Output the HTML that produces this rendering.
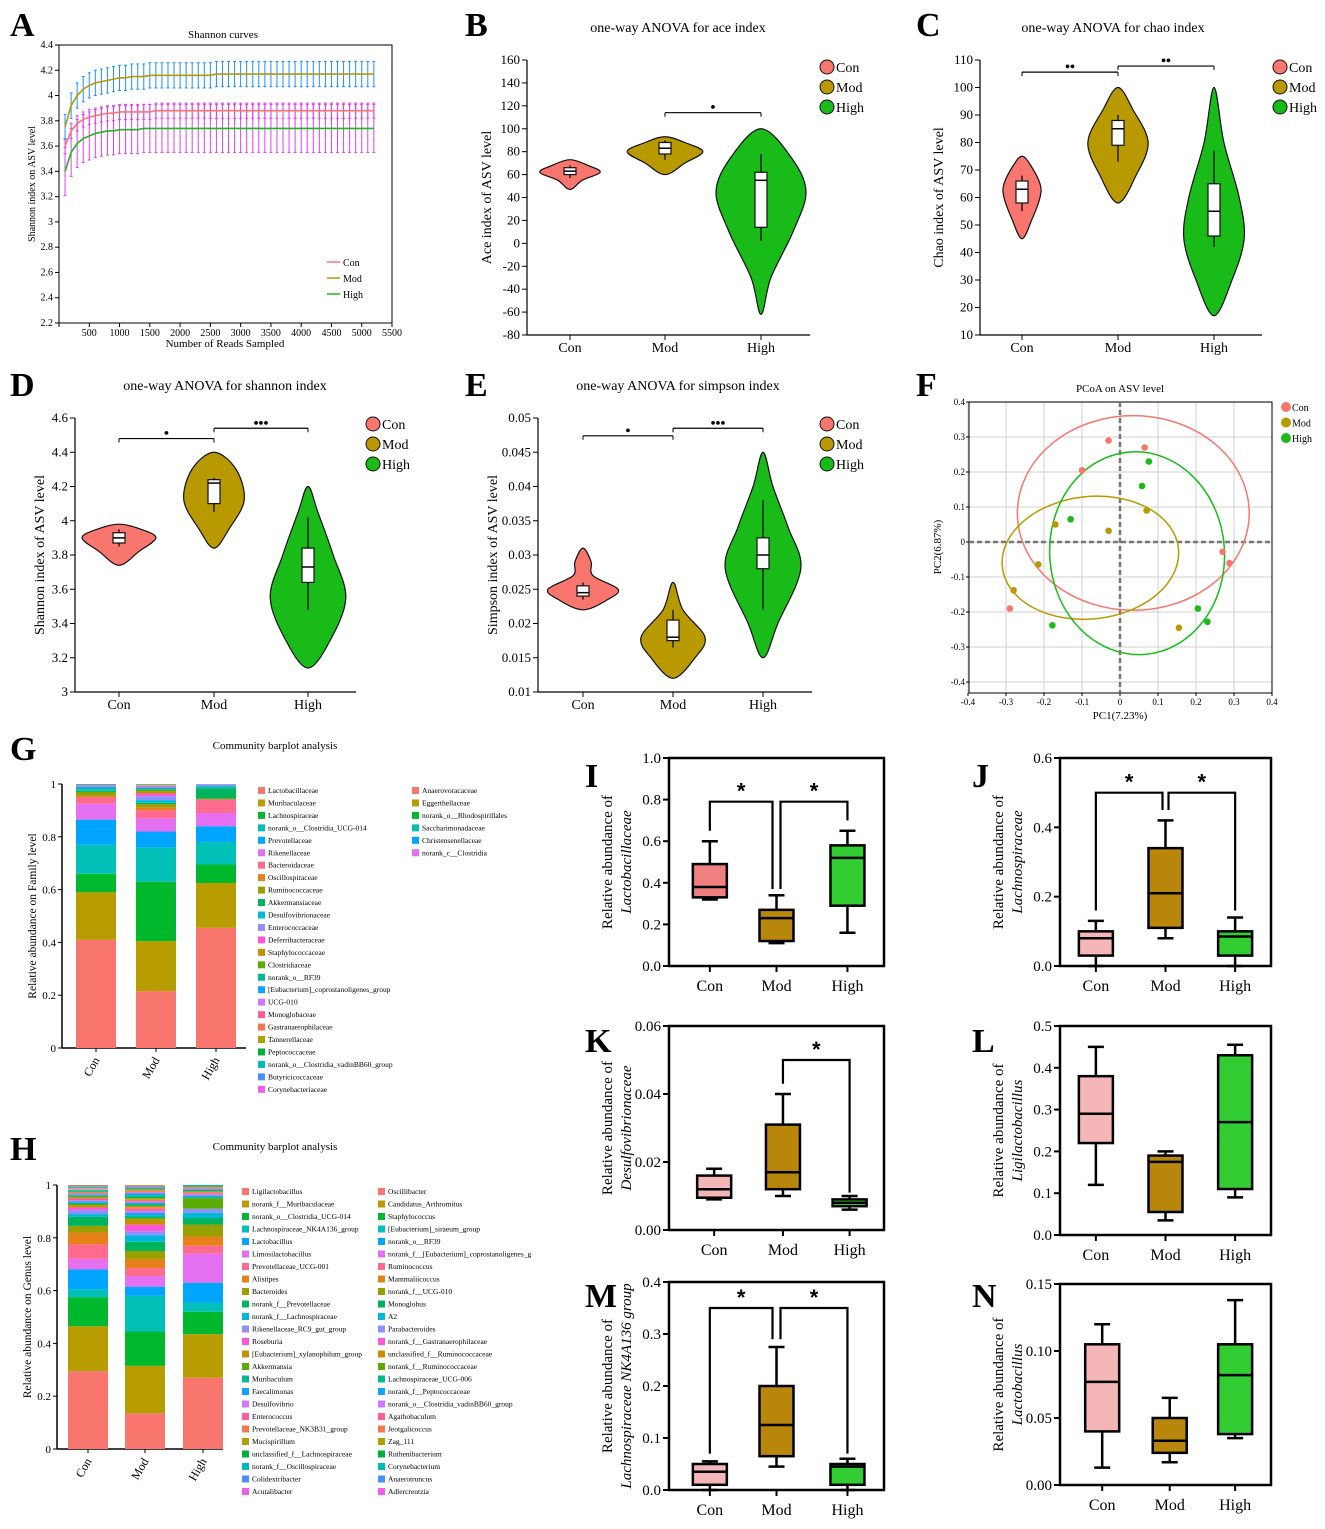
<!DOCTYPE html>
<html><head><meta charset="utf-8"><style>
html,body{margin:0;padding:0;background:#fff}
svg{display:block;font-family:"Liberation Serif",serif}
</style></head><body>
<svg id="fig" width="1325" height="1529" viewBox="0 0 1325 1529" xmlns="http://www.w3.org/2000/svg">
<rect x="0" y="0" width="1325" height="1529" fill="#fff"/>
</svg>
<script>
// ---------- DATA ----------
const groups = ['Con','Mod','High'];
const rareReads = [100,200,300,400,500,600,700,800,900,1000,1100,1200,1300,1400,1500,1600,1700,1800,1900,2000,2100,2200,2300,2400,2500,2600,2700,2800,2900,3000,3100,3200,3300,3400,3500,3600,3700,3800,3900,4000,4100,4200,4300,4400,4500,4600,4700,4800,4900,5000,5100,5200];
const rareCon = [3.60,3.72,3.78,3.81,3.83,3.84,3.85,3.86,3.86,3.87,3.87,3.87,3.87,3.87,3.87,3.88,3.88,3.88,3.88,3.88,3.88,3.88,3.88,3.88,3.88,3.88,3.88,3.88,3.88,3.88,3.88,3.88,3.88,3.88,3.88,3.88,3.88,3.88,3.88,3.88,3.88,3.88,3.88,3.88,3.88,3.88,3.88,3.88,3.88,3.88,3.88,3.88];
const rareMod = [3.75,3.92,4.00,4.05,4.08,4.10,4.11,4.12,4.13,4.14,4.14,4.15,4.15,4.15,4.16,4.16,4.16,4.16,4.16,4.16,4.16,4.16,4.16,4.16,4.16,4.17,4.17,4.17,4.17,4.17,4.17,4.17,4.17,4.17,4.17,4.17,4.17,4.17,4.17,4.17,4.17,4.17,4.17,4.17,4.17,4.17,4.17,4.17,4.17,4.17,4.17,4.17];
const rareHigh = [3.40,3.55,3.62,3.66,3.68,3.70,3.71,3.72,3.72,3.73,3.73,3.73,3.73,3.74,3.74,3.74,3.74,3.74,3.74,3.74,3.74,3.74,3.74,3.74,3.74,3.74,3.74,3.74,3.74,3.74,3.74,3.74,3.74,3.74,3.74,3.74,3.74,3.74,3.74,3.74,3.74,3.74,3.74,3.74,3.74,3.74,3.74,3.74,3.74,3.74,3.74,3.74];
const rareSD = [0.06,0.10,0.19];

const aceVals = [[47,55,62,68,73],[60,70,80,88,93],[-62,-30,10,45,75,100]];
const aceDens = [[0,.27,.67,.4,0],[0,.44,.84,.44,0],[0,.22,.71,1,.67,0]];
const aceBox = [[57,60,63,66,68],[73,78,83,88,90],[2,14,55,62,78]];
const chaoVals = [[45,52,60,65,72,75],[58,68,80,92,100],[17,30,45,60,80,100]];
const chaoDens = [[0,.22,.4,.4,.18,0],[0,.4,.67,.33,0],[0,.4,.67,.56,.22,0]];
const chaoBox = [[55,58,63,66,68],[73,79,85,88,90],[42,46,55,65,77]];
const shanVals = [[3.74,3.82,3.9,3.95,3.98],[3.84,3.95,4.12,4.3,4.4],[3.14,3.3,3.55,3.8,4.05,4.2]];
const shanDens = [[0,.44,.82,.49,0],[0,.33,.67,.49,0],[0,.49,.84,.56,.22,0]];
const shanBox = [[3.85,3.87,3.9,3.93,3.95],[4.05,4.1,4.22,4.24,4.25],[3.48,3.64,3.73,3.84,4.02]];
const simpVals = [[0.022,0.0235,0.025,0.027,0.029,0.031],[0.012,0.015,0.018,0.022,0.026],[0.015,0.02,0.028,0.034,0.04,0.045]];
const simpDens = [[0,.55,.78,.22,.18,0],[0,.49,.71,.22,0],[0,.33,.84,.56,.22,0]];
const simpBox = [[0.0235,0.024,0.0245,0.0255,0.026],[0.0165,0.0175,0.018,0.0205,0.022],[0.022,0.028,0.030,0.0325,0.038]];

const pcoaCon = [[-0.03,0.29],[0.065,0.27],[-0.1,0.205],[0.27,-0.028],[0.288,-0.06],[-0.29,-0.19]];
const pcoaMod = [[-0.17,0.05],[-0.03,0.032],[0.07,0.09],[-0.215,-0.064],[-0.28,-0.138],[0.155,-0.245]];
const pcoaHigh = [[0.076,0.23],[0.058,0.16],[-0.13,0.065],[0.205,-0.19],[0.23,-0.228],[-0.178,-0.238]];
const ellCon = [0.035,0.083,0.305,0.278,0];
const ellMod = [-0.078,-0.045,0.233,0.175,-6];
const ellHigh = [0.045,-0.032,0.23,0.29,-4];

const famNames = ['Lactobacillaceae','Muribaculaceae','Lachnospiraceae','norank_o__Clostridia_UCG-014','Prevotellaceae','Rikenellaceae','Bacteroidaceae','Oscillospiraceae','Ruminococcaceae','Akkermansiaceae','Desulfovibrionaceae','Enterococcaceae','Deferribacteraceae','Staphylococcaceae','Clostridiaceae','norank_o__RF39','[Eubacterium]_coprostanoligenes_group','UCG-010','Monoglobaceae','Gastranaerophilaceae','Tannerellaceae','Peptococcaceae','norank_o__Clostridia_vadinBB60_group','Butyricicoccaceae','Corynebacteriaceae','Anaerovoracaceae','Eggerthellaceae','norank_o__Rhodospirillales','Saccharimonadaceae','Christensenellaceae','norank_c__Clostridia'];
const famCon = [.41,.18,.07,.11,.095,.06,.025,.005,.015,.005,.005,0,0,0,0,.005,.005,.0025,.0025,0,0,0,0,0,0,0,.002,0,0,.003,0];
const famMod = [.215,.19,.225,.13,.06,.05,.03,.012,.012,.005,.01,.015,.01,.008,.006,.005,.004,.003,.003,.002,.002,.001,.001,.001,0,0,0,0,0,0,0];
const famHigh = [.455,.17,.07,.085,.06,.05,.05,.004,0,.04,.005,0,0,0,0,.003,.003,.002,.002,0,0,0,0,0,0,0,0,0,0,.001,0];

const genNames = ['Ligilactobacillus','norank_f__Muribaculaceae','norank_o__Clostridia_UCG-014','Lachnospiraceae_NK4A136_group','Lactobacillus','Limosilactobacillus','Prevotellaceae_UCG-001','Alistipes','Bacteroides','norank_f__Prevotellaceae','norank_f__Lachnospiraceae','Rikenellaceae_RC9_gut_group','Roseburia','[Eubacterium]_xylanophilum_group','Akkermansia','Muribaculum','Faecalimonas','Desulfovibrio','Enterococcus','Prevotellaceae_NK3B31_group','Mucispirillum','unclassified_f__Lachnospiraceae','norank_f__Oscillospiraceae','Colidextribacter','Acutalibacter',
'Oscillibacter','Candidatus_Arthromitus','Staphylococcus','[Eubacterium]_siraeum_group','norank_o__RF39','norank_f__[Eubacterium]_coprostanoligenes_g','Ruminococcus','Mammaliicoccus','norank_f__UCG-010','Monoglobus','A2','Parabacteroides','norank_f__Gastranaerophilaceae','unclassified_f__Ruminococcaceae','norank_f__Ruminococcaceae','Lachnospiraceae_UCG-006','norank_f__Peptococcaceae','norank_o__Clostridia_vadinBB60_group','Agathobaculum','Jeotgalicoccus','Zag_111','Ruthenibacterium','Corynebacterium','Anaerotruncus','Adlercreutzia'];
const genCon = [.295,.17,.11,.03,.075,.04,.055,.045,.025,.035,.01,.015,.01,.008,.005,.005,.005,.005,.004,.004,.004,.004,.003,.003,.003,
.003,.003,.003,.003,.002,.002,.002,.002,.002,.002,.002,.002,.002,.002,0,0,0,0,0,0,0,0,0,0,0];
const genMod = [.135,.18,.13,.135,.035,.04,.03,.035,.03,.035,.025,.015,.025,.02,.005,.01,.01,.008,.007,.006,.005,.005,.004,.004,.004,
.006,.006,.006,.006,.006,.004,.004,.004,.004,.004,.003,.003,.003,.003,0,0,0,0,0,0,0,0,0,0,0];
const genHigh = [.27,.165,.085,.035,.075,.11,.03,.035,.045,.025,.02,.015,0,0,.04,.005,.005,.005,.004,.004,.003,.003,.003,.003,.003,
.003,.003,.002,.002,.002,0,0,0,0,0,0,0,0,0,0,0,0,0,0,0,0,0,0,0,0];

const boxI = [[0.32,0.33,0.38,0.49,0.60],[0.11,0.12,0.23,0.27,0.34],[0.16,0.29,0.52,0.58,0.65]];
const boxJ = [[0.0,0.03,0.08,0.10,0.13],[0.08,0.11,0.21,0.34,0.42],[0.0,0.03,0.085,0.10,0.14]];
const boxK = [[0.009,0.0095,0.012,0.016,0.018],[0.010,0.012,0.017,0.031,0.040],[0.006,0.007,0.008,0.009,0.010]];
const boxL = [[0.12,0.22,0.29,0.38,0.45],[0.035,0.055,0.175,0.19,0.20],[0.09,0.11,0.27,0.43,0.455]];
const boxM = [[0.0,0.01,0.035,0.05,0.055],[0.045,0.065,0.125,0.20,0.275],[0.0,0.01,0.045,0.05,0.06]];
const boxN = [[0.013,0.04,0.077,0.105,0.12],[0.017,0.024,0.033,0.05,0.065],[0.035,0.038,0.082,0.105,0.138]];

// ---------- HELPERS ----------
const NS='http://www.w3.org/2000/svg';
const svg=document.getElementById('fig');
function mk(tag,attrs,name,parent){
  const el=document.createElementNS(NS,tag);
  
  
  for(const k in attrs) el.setAttribute(k,attrs[k]);
  (parent||svg).appendChild(el);
  return el;
}
function txt(x,y,s,name,o){
  o=o||{};
  const a={x:x,y:y,'font-size':o.size||13,'text-anchor':o.anchor||'middle',fill:o.fill||'#000'};
  if(o.weight)a['font-weight']=o.weight;
  if(o.style)a['font-style']=o.style;
  if(o.rot!==undefined)a.transform=`rotate(${o.rot} ${x} ${y})`;
  if(o.family)a['font-family']=o.family;
  const t=mk('text',a,name,o.parent);
  t.textContent=s;
  return t;
}
function ln(x1,y1,x2,y2,name,o){
  o=o||{};
  const a={x1:x1,y1:y1,x2:x2,y2:y2,stroke:o.stroke||'#000','stroke-width':o.w||1};
  if(o.dash)a['stroke-dasharray']=o.dash;
  return mk('line',a,name,o.parent);
}
function fmt(v){return String(+v.toFixed(4));}
function smoothClosed(pts){
  const n=pts.length;let d=`M${pts[0][0]},${pts[0][1]}`;
  for(let i=0;i<n;i++){
    const p0=pts[(i-1+n)%n],p1=pts[i],p2=pts[(i+1)%n],p3=pts[(i+2)%n];
    const c1=[p1[0]+(p2[0]-p0[0])/6,p1[1]+(p2[1]-p0[1])/6];
    const c2=[p2[0]-(p3[0]-p1[0])/6,p2[1]-(p3[1]-p1[1])/6];
    d+=` C${c1[0]},${c1[1]} ${c2[0]},${c2[1]} ${p2[0]},${p2[1]}`;
  }
  return d+'Z';
}
function panelLetter(x,y,s){
  txt(x,y,s,'panel-label-'+s.toLowerCase(),{size:34,weight:'bold',anchor:'start'});
}
const vCols=['#f8766d','#b89a00','#19bb19'];

// ---------- PANEL A ----------
(function(){
  const g=mk('g',{},'panel-a-shannon-curves');
  const X0=59,X1=392,YB=323,YT=45;
  const sx=v=>X0+v/5500*(X1-X0), sy=v=>YB-(v-2.2)/2.2*(YB-YT);
  mk('rect',{x:X0,y:YT,width:X1-X0,height:YB-YT,fill:'none',stroke:'#000','stroke-width':1},'plot-frame',g);
  for(let v=2.2;v<=4.41;v+=0.2){const y=sy(v);ln(X0-4,y,X0,y,'y-tick',{parent:g});txt(X0-6,y+3,fmt(v),'y-tick-label',{size:10,anchor:'end',parent:g});}
  for(let r=0;r<=5500;r+=500){const x=sx(r);ln(x,YB,x,YB+4,'x-tick',{parent:g});if(r>0)txt(x,YB+13,String(r),'x-tick-label',{size:10,parent:g});}
  txt(223,38,'Shannon curves','chart-title',{size:11,parent:g});
  txt(225,347,'Number of Reads Sampled','x-axis-title',{size:11,parent:g});
  txt(35,184,'Shannon index on ASV level','y-axis-title',{size:10,rot:-90,parent:g});
  const series=[rareCon,rareMod,rareHigh], lc=['#f8766d','#b89a00','#19bb19'], ec=['#e040f0','#1e90ff','#e040f0'];
  [2,0,1].forEach(si=>{
    const m=series[si],sd=rareSD[si];
    rareReads.forEach((r,i)=>{
      const x=sx(r);
      ln(x,sy(m[i]-sd),x,sy(m[i]+sd),'error-bar-'+groups[si].toLowerCase(),{stroke:ec[si],parent:g});
      ln(x-1.5,sy(m[i]+sd),x+1.5,sy(m[i]+sd),'error-cap',{stroke:ec[si],parent:g});
      ln(x-1.5,sy(m[i]-sd),x+1.5,sy(m[i]-sd),'error-cap',{stroke:ec[si],parent:g});
    });
  });
  series.forEach((m,si)=>{
    const d=rareReads.map((r,i)=>(i?'L':'M')+sx(r)+','+sy(m[i])).join('');
    mk('path',{d:d,fill:'none',stroke:lc[si],'stroke-width':1.6},'curve-'+groups[si].toLowerCase(),g);
  });
  groups.forEach((gname,i)=>{
    const y=262+i*16;
    ln(327,y,340,y,'legend-line',{stroke:lc[i],w:1.5,parent:g});
    txt(343,y+4,gname,'legend-label',{size:10,anchor:'start',parent:g});
  });
  panelLetter(10,36,'A');
})();

// ---------- VIOLIN PANELS ----------
function violinPanel(c){
  const g=mk('g',{},c.name);
  const sy=v=>c.yb-(v-c.vmin)/(c.vmax-c.vmin)*(c.yb-c.yt);
  ln(c.x0,c.yt,c.x0,c.yb,'y-axis-line',{w:1.2,parent:g});
  ln(c.x0,c.yb,c.x1,c.yb,'x-axis-line',{w:1.2,parent:g});
  c.ticks.forEach(v=>{const y=sy(v);ln(c.x0-5,y,c.x0,y,'y-tick',{parent:g});txt(c.x0-7,y+4,fmt(v),'y-tick-label',{size:13,anchor:'end',parent:g});});
  c.cx.forEach((x,i)=>{ln(x,c.yb,x,c.yb+5,'x-tick',{parent:g});txt(x,c.yb+17,groups[i],'x-tick-label',{size:14,parent:g});});
  txt(c.tx,c.ty,c.title,'chart-title',{size:14,parent:g});
  txt(c.ytx,(c.yt+c.yb)/2,c.ytitle,'y-axis-title',{size:14,rot:-90,parent:g});
  for(let i=0;i<3;i++){
    const vals=c.vals[i],dens=c.dens[i],x=c.cx[i];
    const right=vals.map((v,k)=>[x+dens[k]*45,sy(v)]);
    const left=[];for(let k=vals.length-2;k>=1;k--)left.push([x-dens[k]*45,sy(vals[k])]);
    mk('path',{d:smoothClosed(right.concat(left)),fill:vCols[i],stroke:'#111','stroke-width':1.2},'violin-'+groups[i].toLowerCase(),g);
    const b=c.box[i];
    ln(x,sy(b[0]),x,sy(b[4]),'box-whisker',{w:1.2,parent:g});
    mk('rect',{x:x-6,y:sy(b[3]),width:12,height:sy(b[1])-sy(b[3]),fill:'#fff',stroke:'#111','stroke-width':1.2},'box-'+groups[i].toLowerCase(),g);
    ln(x-6,sy(b[2]),x+6,sy(b[2]),'box-median',{w:1.5,parent:g});
  }
  c.sig.forEach(s=>{
    const y=sy(s[2]),xa=c.cx[s[0]],xb=c.cx[s[1]];
    ln(xa,y,xb,y,'significance-bar',{w:1.2,parent:g});
    ln(xa,y,xa,y+4,'significance-tick',{parent:g});ln(xb,y,xb,y+4,'significance-tick',{parent:g});
    txt((xa+xb)/2,y-1,s[3],'significance-mark',{size:14,weight:'bold',parent:g});
  });
  groups.forEach((gname,i)=>{
    const y=c.ly+i*20;
    mk('circle',{cx:c.lx,cy:y,r:7,fill:vCols[i],stroke:'#111','stroke-width':1},'legend-marker-'+gname.toLowerCase(),g);
    txt(c.lx+9,y+5,gname,'legend-label',{size:14,anchor:'start',parent:g});
  });
  panelLetter(c.lpx,c.lpy,c.letter);
}
violinPanel({name:'panel-b-ace-violin',letter:'B',lpx:465,lpy:36,x0:527,x1:810,yt:60,yb:335,vmin:-80,vmax:160,ticks:[-80,-60,-40,-20,0,20,40,60,80,100,120,140,160],cx:[570,665,761],vals:aceVals,dens:aceDens,box:aceBox,title:'one-way ANOVA for ace index',tx:678,ty:32,ytitle:'Ace index of ASV level',ytx:491,lx:827,ly:67,sig:[[1,2,114,'•']]});
violinPanel({name:'panel-c-chao-violin',letter:'C',lpx:916,lpy:36,x0:980,x1:1262,yt:60,yb:335,vmin:10,vmax:110,ticks:[10,20,30,40,50,60,70,80,90,100,110],cx:[1022,1118,1214],vals:chaoVals,dens:chaoDens,box:chaoBox,title:'one-way ANOVA for chao index',tx:1113,ty:32,ytitle:'Chao index of ASV level',ytx:943,lx:1280,ly:67,sig:[[0,1,105.6,'••'],[1,2,107.8,'••']]});
violinPanel({name:'panel-d-shannon-violin',letter:'D',lpx:10,lpy:396,x0:75,x1:356,yt:418,yb:692,vmin:3,vmax:4.6,ticks:[3,3.2,3.4,3.6,3.8,4,4.2,4.4,4.6],cx:[119,214,308],vals:shanVals,dens:shanDens,box:shanBox,title:'one-way ANOVA for shannon index',tx:225,ty:390,ytitle:'Shannon index of ASV level',ytx:44,lx:373,ly:424,sig:[[0,1,4.48,'•'],[1,2,4.54,'•••']]});
violinPanel({name:'panel-e-simpson-violin',letter:'E',lpx:465,lpy:396,x0:538,x1:812,yt:418,yb:692,vmin:0.01,vmax:0.05,ticks:[0.01,0.015,0.02,0.025,0.03,0.035,0.04,0.045,0.05],cx:[583,673,763],vals:simpVals,dens:simpDens,box:simpBox,title:'one-way ANOVA for simpson index',tx:678,ty:390,ytitle:'Simpson index of ASV level',ytx:497,lx:827,ly:424,sig:[[0,1,0.0474,'•'],[1,2,0.0485,'•••']]});

// ---------- PANEL F PCoA ----------
(function(){
  const g=mk('g',{},'panel-f-pcoa');
  const X0=969,X1=1272,YT=402,YB=693;
  const sx=v=>1120+v*380, sy=v=>542-v*350;
  for(let v=-0.4;v<=0.401;v+=0.1){
    const x=sx(v),y=sy(v);
    ln(x,YT,x,YB,'grid-line-x',{stroke:'#d9d9d9',w:1.2,parent:g});
    ln(X0,y,X1,y,'grid-line-y',{stroke:'#d9d9d9',w:1.2,parent:g});
    ln(x,YB,x,YB+3,'x-tick',{parent:g});ln(X0-3,y,X0,y,'y-tick',{parent:g});
    txt(x,YB+12,fmt(v),'x-tick-label',{size:9,parent:g});
    txt(X0-4,y+3,fmt(v),'y-tick-label',{size:9,anchor:'end',parent:g});
  }
  mk('rect',{x:X0,y:YT,width:X1-X0,height:YB-YT,fill:'none',stroke:'#000','stroke-width':1},'plot-frame',g);
  ln(sx(0),YT,sx(0),YB,'zero-line-x',{stroke:'#777',w:2.5,dash:'5,3',parent:g});
  ln(X0,sy(0),X1,sy(0),'zero-line-y',{stroke:'#777',w:2.5,dash:'5,3',parent:g});
  const pc=['#f8766d','#b89a00','#19bb19'];
  [ellCon,ellMod,ellHigh].forEach((e,i)=>{
    mk('ellipse',{cx:sx(e[0]),cy:sy(e[1]),rx:e[2]*380,ry:e[3]*350,fill:'none',stroke:pc[i],'stroke-width':1.5,transform:`rotate(${e[4]} ${sx(e[0])} ${sy(e[1])})`},'ellipse-'+groups[i].toLowerCase(),g);
  });
  [pcoaCon,pcoaMod,pcoaHigh].forEach((pts,i)=>pts.forEach(p=>{
    mk('circle',{cx:sx(p[0]),cy:sy(p[1]),r:3.3,fill:pc[i]},'point-'+groups[i].toLowerCase(),g);
  }));
  txt(1120,392,'PCoA on ASV level','chart-title',{size:11,parent:g});
  txt(1120,719,'PC1(7.23%)','x-axis-title',{size:11,parent:g});
  txt(941,547,'PC2(6.87%)','y-axis-title',{size:11,rot:-90,parent:g});
  groups.forEach((gname,i)=>{
    const y=407+i*15.5;
    mk('circle',{cx:1286,cy:y,r:5,fill:pc[i]},'legend-marker-'+gname.toLowerCase(),g);
    txt(1292,y+4,gname,'legend-label',{size:10,anchor:'start',parent:g});
  });
  panelLetter(916,396,'F');
})();

// ---------- STACKED BARS G / H ----------
const pal=['#f8766d','#b89d00','#00b82c','#00c0b8','#00a5ff','#e46ff0','#ff6b8f','#e8801a','#98a000','#00b45e','#00b8dc','#8f8fff','#ff55d8','#c69000','#5aac00','#00bb8f','#11a4ff','#c97aff','#ff5c9f','#f5774f','#aea200','#00b13c','#00bbbb','#4a90ff','#ee5ff0'];
function stackPanel(c){
  const g=mk('g',{},c.name);
  const sy=v=>c.yb-v*(c.yb-c.yt);
  ln(c.x0,c.yt,c.x0,c.yb,'y-axis-line',{w:1.5,parent:g});
  ln(c.x0,c.yb,c.x1,c.yb,'x-axis-line',{w:1.5,parent:g});
  [0,0.2,0.4,0.6,0.8,1].forEach(v=>{const y=sy(v);ln(c.x0-4,y,c.x0,y,'y-tick',{parent:g});txt(c.x0-6,y+4,fmt(v),'y-tick-label',{size:11,anchor:'end',parent:g});});
  c.series.forEach((vals,i)=>{
    const bx=c.bx[i];let acc=0;
    vals.forEach((v,k)=>{
      if(v<=0)return;
      mk('rect',{x:bx-c.bw/2,y:sy(Math.min(1,acc+v)),width:c.bw,height:sy(acc)-sy(Math.min(1,acc+v)),fill:pal[k%25]},'bar-segment-'+groups[i].toLowerCase(),g);
      acc+=v;
    });
    ln(bx,c.yb,bx,c.yb+4,'x-tick',{parent:g});
    txt(bx+4,c.yb+12,groups[i],'x-tick-label',{size:12,anchor:'end',rot:-60,parent:g});
  });
  txt(c.x0-26,(c.yt+c.yb)/2,c.ytitle,'y-axis-title',{size:11.5,rot:-90,parent:g});
  txt(c.tx,c.ty,'Community barplot analysis','chart-title',{size:11,parent:g});
  c.names.forEach((n,k)=>{
    const col=k<25?0:1,row=k%25;
    const x=c.lx[col],y=c.ly+row*c.ls;
    mk('rect',{x:x,y:y-6,width:7,height:7,fill:pal[k%25]},'legend-swatch',g);
    txt(x+10,y,n,'legend-label',{size:7.5,anchor:'start',parent:g});
  });
  panelLetter(c.lpx,c.lpy,c.letter);
}
stackPanel({name:'panel-g-family-barplot',letter:'G',lpx:10,lpy:760,x0:62,x1:246,yt:784,yb:1048,bx:[96,156,216],bw:40,series:[famCon,famMod,famHigh],names:famNames,lx:[258,412],ly:793,ls:12.45,ytitle:'Relative abundance on Family level',tx:275,ty:749});
stackPanel({name:'panel-h-genus-barplot',letter:'H',lpx:10,lpy:1160,x0:57,x1:223,yt:1185,yb:1449,bx:[88,145,203],bw:40,series:[genCon,genMod,genHigh],names:genNames,lx:[242,378],ly:1194,ls:12.5,ytitle:'Relative abundance on Genus level',tx:275,ty:1150});

// ---------- BOX PANELS I-N ----------
const bCols=['#f08080','#b8860b','#32cd32'];
const bColsLight=['#f4b6b6','#b8860b','#32cd32'];
function boxPanel(c){
  const g=mk('g',{},c.name);
  const sy=v=>c.yb-(v-c.ticks[0])/(c.ticks[c.ticks.length-1]-c.ticks[0])*(c.yb-c.yt);
  const sx=i=>c.x0+(c.x1-c.x0)*c.cf[i];
  mk('rect',{x:c.x0,y:c.yt,width:c.x1-c.x0,height:c.yb-c.yt,fill:'none',stroke:'#000','stroke-width':2.5},'plot-frame',g);
  c.ticks.forEach(v=>{const y=sy(v);ln(c.x0-6,y,c.x0,y,'y-tick',{w:2,parent:g});txt(c.x0-8,y+5,v.toFixed(c.dec),'y-tick-label',{size:15,anchor:'end',parent:g});});
  c.box.forEach((b,i)=>{
    const x=sx(i);
    ln(x,c.yb,x,c.yb+6,'x-tick',{w:2,parent:g});
    txt(x,c.yb+25,groups[i],'x-tick-label',{size:16,parent:g});
    ln(x,sy(b[0]),x,sy(b[4]),'whisker-'+groups[i].toLowerCase(),{w:2.5,parent:g});
    ln(x-8,sy(b[0]),x+8,sy(b[0]),'whisker-cap',{w:2.5,parent:g});
    ln(x-8,sy(b[4]),x+8,sy(b[4]),'whisker-cap',{w:2.5,parent:g});
    mk('rect',{x:x-17,y:sy(b[3]),width:34,height:Math.max(1,sy(b[1])-sy(b[3])),fill:c.cols[i],stroke:'#000','stroke-width':2.5},'box-'+groups[i].toLowerCase(),g);
    ln(x-17,sy(b[2]),x+17,sy(b[2]),'median-'+groups[i].toLowerCase(),{w:2.5,parent:g});
  });
  c.sig.forEach(s=>{
    const xa=sx(s[0])+(s[5]||0),xb=sx(s[1])+(s[6]||0),yt=sy(s[2]);
    mk('path',{d:`M${xa},${sy(s[3])}V${yt}H${xb}V${sy(s[4])}`,fill:'none',stroke:'#000','stroke-width':2.2},'significance-bracket',g);
    txt((xa+xb)/2,yt-3,'*','significance-star',{size:22,weight:'bold',family:'"Liberation Sans",sans-serif',parent:g});
  });
  const cy=(c.yt+c.yb)/2;
  txt(c.x0-57,cy,'Relative abundance of','y-axis-title',{size:15,rot:-90,parent:g});
  txt(c.x0-38,cy,c.taxon,'y-axis-title-taxon',{size:15,rot:-90,style:'italic',parent:g});
  panelLetter(c.lpx,c.lpy,c.letter);
}
boxPanel({name:'panel-i-lactobacillaceae',letter:'I',lpx:585,lpy:787,x0:669,x1:884,yt:758,yb:966,ticks:[0,0.2,0.4,0.6,0.8,1.0],dec:1,cf:[0.19,0.5,0.83],box:boxI,cols:bCols,taxon:'Lactobacillaceae',sig:[[0,1,0.79,0.65,0.37,0,-4],[1,2,0.79,0.37,0.7,4,0]]});
boxPanel({name:'panel-j-lachnospiraceae',letter:'J',lpx:972,lpy:787,x0:1060,x1:1271,yt:758,yb:966,ticks:[0,0.2,0.4,0.6],dec:1,cf:[0.17,0.5,0.83],box:boxJ,cols:bColsLight,taxon:'Lachnospiraceae',sig:[[0,1,0.5,0.16,0.45,0,-3],[1,2,0.5,0.45,0.16,3,0]]});
boxPanel({name:'panel-k-desulfovibrionaceae',letter:'K',lpx:585,lpy:1052,x0:669,x1:884,yt:1026,yb:1230,ticks:[0,0.02,0.04,0.06],dec:2,cf:[0.21,0.53,0.84],box:boxK,cols:bColsLight,taxon:'Desulfovibrionaceae',sig:[[1,2,0.05,0.043,0.011,0,0]]});
boxPanel({name:'panel-l-ligilactobacillus',letter:'L',lpx:972,lpy:1052,x0:1060,x1:1271,yt:1026,yb:1235,ticks:[0,0.1,0.2,0.3,0.4,0.5],dec:1,cf:[0.17,0.5,0.83],box:boxL,cols:bColsLight,taxon:'Ligilactobacillus',sig:[]});
boxPanel({name:'panel-m-lachnospiraceae-nk4a136',letter:'M',lpx:585,lpy:1307,x0:669,x1:884,yt:1282,yb:1490,ticks:[0,0.1,0.2,0.3,0.4],dec:1,cf:[0.19,0.5,0.83],box:boxM,cols:bColsLight,taxon:'Lachnospiraceae NK4A136 group',sig:[[0,1,0.35,0.07,0.29,0,-4],[1,2,0.35,0.29,0.07,4,0]]});
boxPanel({name:'panel-n-lactobacillus',letter:'N',lpx:972,lpy:1307,x0:1060,x1:1271,yt:1284,yb:1485,ticks:[0,0.05,0.10,0.15],dec:2,cf:[0.2,0.52,0.83],box:boxN,cols:bColsLight,taxon:'Lactobacillus',sig:[]});
</script>
</body></html>
